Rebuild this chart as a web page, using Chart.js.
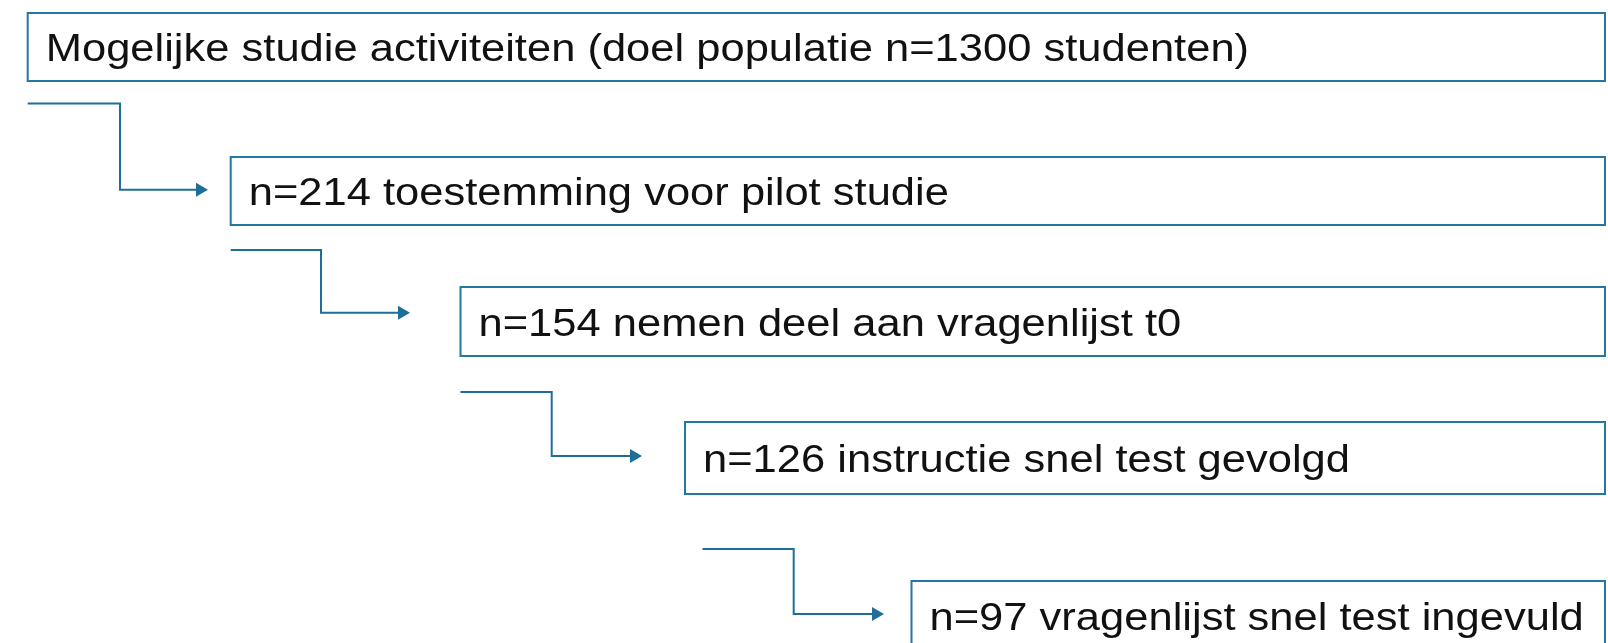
<!DOCTYPE html>
<html>
<head>
<meta charset="utf-8">
<script src="https://cdn.jsdelivr.net/npm/chart.js@4"></script>
<style>
  html, body { margin: 0; padding: 0; background: #fff; }
  #wrap { width: 1608px; height: 643px; }
</style>
</head>
<body>
<div id="wrap"><canvas id="flow" width="1608" height="643"></canvas></div>
<script>
// step data
const stepCounts = [1300, 214, 154, 126, 97];
const stepTexts = [
  'Mogelijke studie activiteiten',
  'toestemming voor pilot studie',
  'nemen deel aan vragenlijst t0',
  'instructie snel test gevolgd',
  'vragenlijst snel test ingevuld'
];

// layout of the diagram (in axis units, 1 unit = 1 px)
const boxLeft = [27.7, 230.7, 460.5, 685, 911.5];
const boxTop = [13, 157, 287, 422, 581];
const boxHeight = [68, 68, 69, 72, 70];
const boxRight = 1605;
const connStartX = [27.7, 230.7, 460.5, 702.5];
const connStartY = [103.6, 250, 392, 549];
const connElbowX = [120, 321, 551.7, 793.7];
const connEndY = [189.7, 312.8, 456, 614];
const connTipX = [208, 410, 642, 884];

const lineColor = '#1d6f98';
const boxColor = '#2477a1';
const arrowR = 8;
const textStretch = 1.145; // the original text is drawn a bit wide

function stepLabel(i) {
  if (i === 0) return `${stepTexts[0]} (doel populatie n=${stepCounts[0]} studenten)`;
  return `n=${stepCounts[i]} ${stepTexts[i]}`;
}

const connectors = connStartX.map((sx, i) => ({
  label: 'conn' + i,
  data: [
    { x: sx, y: connStartY[i] },
    { x: connElbowX[i], y: connStartY[i] },
    { x: connElbowX[i], y: connEndY[i] },
    { x: connTipX[i] - arrowR, y: connEndY[i] }
  ],
  showLine: true,
  borderColor: lineColor,
  borderWidth: 2,
  tension: 0,
  backgroundColor: lineColor,
  pointStyle: 'triangle',
  pointRotation: 90,
  pointBorderWidth: 0,
  pointRadius: ctx => ctx.dataIndex === 3 ? arrowR : 0,
  pointHoverRadius: ctx => ctx.dataIndex === 3 ? arrowR : 0
}));

const boxesPlugin = {
  id: 'boxes',
  afterDatasetsDraw(chart) {
    const { ctx, scales: { x, y } } = chart;
    stepCounts.forEach((c, i) => {
      const l = x.getPixelForValue(boxLeft[i]);
      const r = x.getPixelForValue(boxRight);
      const t = y.getPixelForValue(boxTop[i]);
      const b = y.getPixelForValue(boxTop[i] + boxHeight[i]);
      ctx.save();
      ctx.strokeStyle = boxColor;
      ctx.lineWidth = 2;
      ctx.strokeRect(l, t, r - l, b - t);
      ctx.fillStyle = '#111';
      ctx.font = '38px "Liberation Sans", Arial, sans-serif';
      ctx.textBaseline = 'alphabetic';
      ctx.textAlign = 'left';
      ctx.translate(l + 18, (t + b) / 2 + 14);
      ctx.scale(textStretch, 1);
      ctx.fillText(stepLabel(i), 0, 0);
      ctx.restore();
    });
  }
};

new Chart(document.getElementById('flow'), {
  type: 'scatter',
  data: { datasets: connectors },
  options: {
    responsive: false,
    animation: false,
    events: [],
    layout: { padding: 0, autoPadding: false },
    plugins: { legend: { display: false }, tooltip: { enabled: false } },
    scales: {
      x: { type: 'linear', min: 0, max: 1608, display: false },
      y: { type: 'linear', min: 0, max: 643, reverse: true, display: false }
    }
  },
  plugins: [boxesPlugin]
});
</script>
</body>
</html>
